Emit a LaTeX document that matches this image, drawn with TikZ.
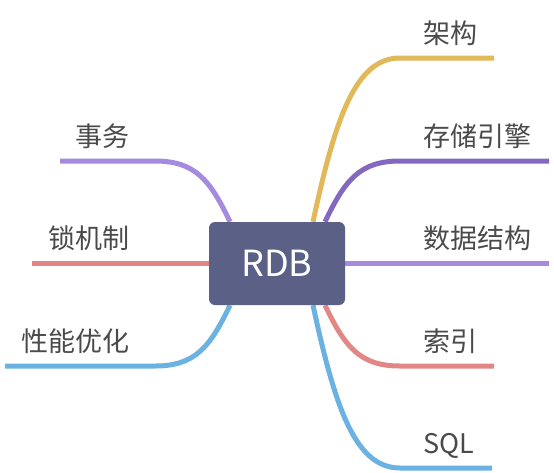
\documentclass[tikz,border=0pt]{standalone}
\usepackage{fontspec}
\setmainfont{Noto Sans CJK SC}
\usetikzlibrary{calc}
\usetikzlibrary{backgrounds}

\definecolor{rootFill}{HTML}{5B6087}
\definecolor{topicText}{HTML}{4A4A4A}
\definecolor{archYellow}{HTML}{E1B95B}
\definecolor{engineViolet}{HTML}{8468C0}
\definecolor{lightViolet}{HTML}{A58AE0}
\definecolor{softRed}{HTML}{E38686}
\definecolor{skyBlue}{HTML}{6BB2E3}

\begin{document}
\begin{tikzpicture}[x=1pt, y=-1pt,
    root/.style={fill=rootFill, rounded corners=6pt, minimum width=136pt, minimum height=83pt, inner sep=0pt, text=white, font=\fontsize{36}{36}\selectfont},
    branch/.style={line width=5pt},
    topic/.style={text=topicText, inner sep=0pt, font=\fontsize{27}{27}\selectfont}]

    % Picture frame
    \useasboundingbox (0,0) rectangle (554,472);

    % Central node
    \node[root] (rdb) at (277,263.5) {RDB};

    % Start points of the branches on the box
    \coordinate (archStart) at ($(rdb.north)+(36,0)$);
    \coordinate (engineStart) at ($(rdb.north)+(48,0)$);
    \coordinate (indexStart) at ($(rdb.south)+(48,0)$);
    \coordinate (sqlStart) at ($(rdb.south)+(36,0)$);
    \coordinate (txStart) at ($(rdb.north)+(-47,0)$);
    \coordinate (perfStart) at ($(rdb.south)+(-47,0)$);

    % Bends and free ends of the branches
    \coordinate (archBend) at (400,58);    \coordinate (archEnd) at (494,58);
    \coordinate (engineBend) at (400,161); \coordinate (engineEnd) at (549,161);
    \coordinate (dataEnd) at (549,263.5);
    \coordinate (indexBend) at (400,366);  \coordinate (indexEnd) at (494,366);
    \coordinate (sqlBend) at (400,468);    \coordinate (sqlEnd) at (492,468);
    \coordinate (txBend) at (155,161);     \coordinate (txEnd) at (60,161);
    \coordinate (lockEnd) at (32,263.5);
    \coordinate (perfBend) at (155,366);   \coordinate (perfEnd) at (5,366);

    % Labels above the branches
    \node[topic, anchor=base west] (arch) at ($(archBend)+(23,-15)$) {架构};
    \node[topic, anchor=base west] (engine) at ($(engineBend)+(23,-15)$) {存储引擎};
    \node[topic, anchor=base west] (data) at (423,248.5) {数据结构};
    \node[topic, anchor=base west] (index) at ($(indexBend)+(23,-15)$) {索引};
    \node[topic, anchor=base west] (sql) at ($(sqlBend)+(23,-15)$) {SQL};
    \node[topic, anchor=base east] (tx) at (130,146) {事务};
    \node[topic, anchor=base east] (lock) at (130,248.5) {锁机制};
    \node[topic, anchor=base east] (perf) at (130,351) {性能优化};

    % Branches, behind the box
    \begin{scope}[on background layer]
        \draw[branch, archYellow] (archStart) .. controls +(22,-102) and +(-45,0) .. (archBend) -- (archEnd);
        \draw[branch, engineViolet] (engineStart) .. controls +(20,-42) and +(-40,0) .. (engineBend) -- (engineEnd);
        \draw[branch, lightViolet] (rdb.east) -- (dataEnd);
        \draw[branch, softRed] (indexStart) .. controls +(20,42) and +(-40,0) .. (indexBend) -- (indexEnd);
        \draw[branch, skyBlue] (sqlStart) .. controls +(22,102) and +(-45,0) .. (sqlBend) -- (sqlEnd);
        \draw[branch, lightViolet] (txStart) .. controls +(-20,-42) and +(40,0) .. (txBend) -- (txEnd);
        \draw[branch, softRed] (rdb.west) -- (lockEnd);
        \draw[branch, skyBlue] (perfStart) .. controls +(-20,42) and +(40,0) .. (perfBend) -- (perfEnd);
    \end{scope}

\end{tikzpicture}
\end{document}
